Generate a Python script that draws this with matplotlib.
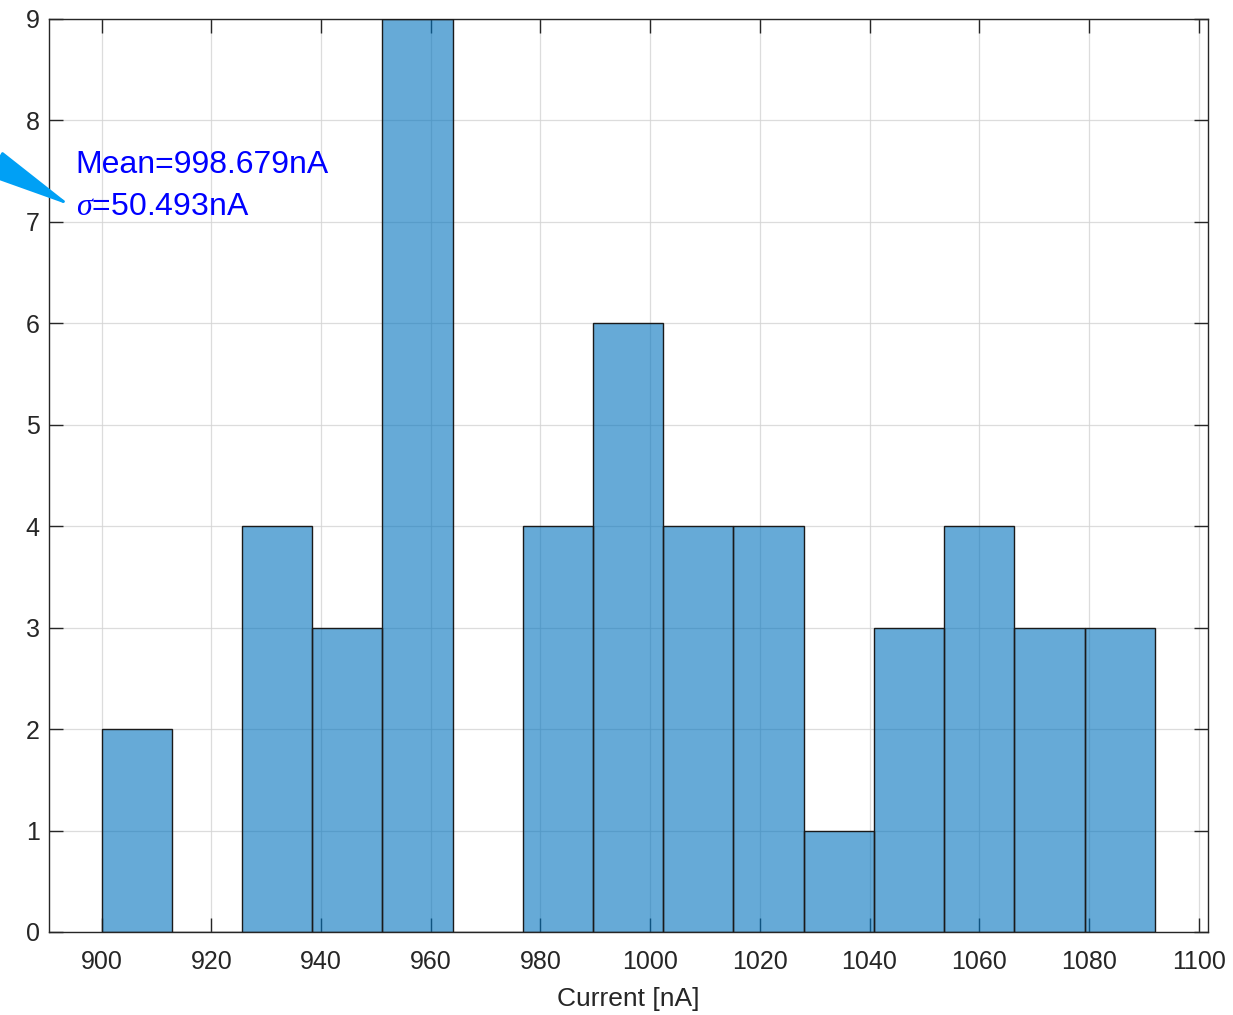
import numpy as np
import matplotlib
matplotlib.use("Agg")
import matplotlib.pyplot as plt

# histogram of measured current, 15 bins of 12.8 nA
bin_start = 900.0
bin_width = 12.8
counts = [2, 0, 4, 3, 9, 0, 4, 6, 4, 4, 1, 3, 4, 3, 3]
xticks = [900, 920, 940, 960, 980, 1000, 1020, 1040, 1060, 1080, 1100]
yticks = [0, 1, 2, 3, 4, 5, 6, 7, 8, 9]
mean_txt = "Mean=998.679nA"
sigma_txt = r"$\sigma$=50.493nA"

plt.rcParams['font.family'] = ['Liberation Sans', 'DejaVu Sans']
plt.rcParams['mathtext.fontset'] = 'custom'
plt.rcParams['mathtext.it'] = 'Liberation Serif:italic'

edges = bin_start + bin_width * np.arange(len(counts) + 1)

fig = plt.figure(figsize=(12.33, 10.15), dpi=100)
ax = fig.add_axes([0.0401, 0.0818, 0.9396, 0.8995])

ax.bar(edges[:-1], counts, width=np.diff(edges), align='edge',
       color=(0.0, 0.447, 0.741), alpha=0.6, edgecolor='none', zorder=2)
ax.bar(edges[:-1], counts, width=np.diff(edges), align='edge',
       facecolor='none', edgecolor='#1a1a1a', linewidth=1.0, zorder=3)

ax.set_xlim(890.5, 1101.7)
ax.set_ylim(0, 9)
ax.set_xticks(xticks)
ax.set_yticks(yticks)
ax.grid(True, color='#d4d4d4', alpha=0.8, linewidth=0.9, zorder=0)
ax.set_axisbelow(True)

ax.tick_params(direction='in', length=10, width=1, colors='#262626',
               labelsize=18, top=True, right=True)
ax.tick_params(axis='x', pad=13)
ax.tick_params(axis='y', pad=7)
for s in ax.spines.values():
    s.set_color('#262626')
    s.set_linewidth(1.0)

ax.set_xlabel("Current [nA]", fontsize=19, color='#262626', labelpad=9)

# annotation with arrow coming in from the left
ax.text(895.3, 7.485, mean_txt, color='blue', fontsize=23, va='baseline')
ax.text(895.3, 7.07, sigma_txt, color='blue', fontsize=23, va='baseline')
ax.annotate("", xy=(894.4, 7.16), xytext=(868, 7.95),
            arrowprops=dict(arrowstyle='-|>,head_length=5.5,head_width=0.9',
                            color='#00a0f5', lw=2, shrinkA=0, shrinkB=0),
            annotation_clip=False)

fig.savefig("out.png", dpi=100)
